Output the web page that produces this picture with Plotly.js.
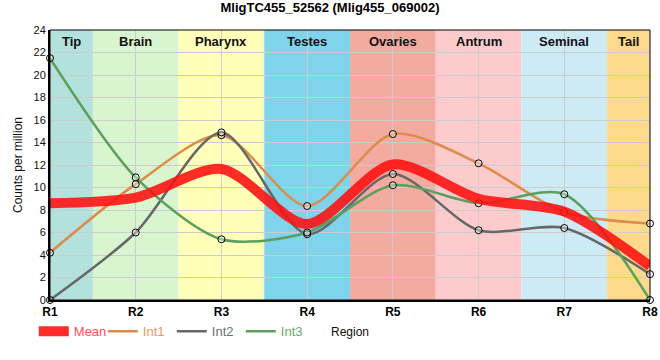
<!DOCTYPE html>
<html>
<head>
<meta charset="utf-8">
<script src="https://cdn.plot.ly/plotly-3.0.1.min.js"></script>
<style>html,body{margin:0;padding:0;background:#fff;}#chart{width:660px;height:360px;}</style>
</head>
<body>
<div id="chart"></div>
<script>
// ---- data ----
const categories = ["R1", "R2", "R3", "R4", "R5", "R6", "R7", "R8"];
const meanValues = [8.6, 9.1, 11.65, 6.75, 12.05, 9.0, 7.85, 3.0];
const int1Values = [4.2, 10.3, 14.65, 8.35, 14.75, 12.15, 7.8, 6.8];
const int2Values = [0.0, 6.0, 14.9, 5.85, 11.2, 6.2, 6.4, 2.3];
const int3Values = [21.5, 10.9, 5.4, 6.0, 10.2, 8.6, 9.4, 0.0];
const regionLabels = ["Tip", "Brain", "Pharynx", "Testes", "Ovaries", "Antrum", "Seminal", "Tail"];
const regionColors = ["#b3e2dd", "#d9f5d0", "#ffffb9", "#7fd3eb", "#f4ab9f", "#fdcbcb", "#cdebf5", "#fcd98b"];

const FONT = "Liberation Sans, Arial, sans-serif";

function lineTrace(name, vals, color, labelColor, width, rank) {
  return {
    type: "scatter", x: categories, y: vals,
    name: "<span style='color:" + labelColor + "'>" + name + "</span>",
    mode: "lines",
    line: {color: color, width: width, shape: "spline", smoothing: 0.8},
    cliponaxis: false, legendrank: rank, hoverinfo: "y"
  };
}
function markerTrace(vals) {
  return {
    type: "scatter", x: categories, y: vals, mode: "markers", showlegend: false,
    marker: {symbol: "circle", size: 7, color: "rgba(255,255,255,0.35)", line: {color: "#000", width: 1}},
    cliponaxis: false, hoverinfo: "y"
  };
}

const traces = [
  lineTrace("Int1", int1Values, "#dc8c4a", "#e39a5e", 2.5, 2),
  lineTrace("Int2", int2Values, "#676767", "#707070", 2.5, 3),
  lineTrace("Int3", int3Values, "#5a9f5e", "#68ad6a", 2.5, 4),
  markerTrace(int1Values),
  markerTrace(int2Values),
  markerTrace(int3Values),
  lineTrace("Mean", meanValues, "rgba(255,15,15,0.88)", "#ff4d5a", 10, 1)
];

const shapes = [];
const annotations = [];
for (let i = 0; i < categories.length; i++) {
  const x0 = Math.max(0, i - 0.5), x1 = Math.min(categories.length - 1, i + 0.5);
  shapes.push({type: "rect", xref: "x", yref: "paper", x0: x0, x1: x1, y0: 0, y1: 1,
    fillcolor: regionColors[i], line: {width: 0}, layer: "below"});
  annotations.push({xref: "x", yref: "paper", x: (x0 + x1) / 2, y: 1, yanchor: "top", yshift: -2,
    text: "<b>" + regionLabels[i] + "</b>", showarrow: false,
    font: {family: FONT, size: 13, color: "#111"}});
}
shapes.push({type: "rect", xref: "paper", yref: "paper", x0: 0, x1: 1, y0: 0, y1: 1,
  line: {color: "#000", width: 1}, layer: "above"});

const layout = {
  width: 660, height: 360,
  margin: {l: 50, r: 10, t: 30, b: 60},
  paper_bgcolor: "#fff", plot_bgcolor: "#fff",
  font: {family: FONT, size: 11, color: "#111"},
  title: {text: "<b>MligTC455_52562 (Mlig455_069002)</b>", x: 0.5, xanchor: "center",
    y: 0.978, yref: "container", yanchor: "middle",
    font: {family: FONT, size: 13, color: "#000"}},
  xaxis: {type: "category", range: [0, 7], showgrid: true, gridcolor: "#cccccc", gridwidth: 1,
    showline: true, linecolor: "#000", linewidth: 2, zeroline: false, ticks: "",
    tickfont: {family: FONT, size: 12, color: "#000", weight: "bold"},
    title: {text: "Region", standoff: 9, font: {size: 12, color: "#111"}}, automargin: false, fixedrange: true},
  yaxis: {range: [0, 24], dtick: 2, showgrid: true, gridcolor: "#cccccc", gridwidth: 1,
    showline: true, linecolor: "#000", linewidth: 2, zeroline: false, ticks: "",
    tickfont: {size: 11, color: "#111"},
    title: {text: "Counts per million", standoff: 8, font: {size: 12, color: "#111"}}, automargin: false, fixedrange: true},
  shapes: shapes,
  annotations: annotations,
  showlegend: true,
  legend: {orientation: "h", x: -0.027, xanchor: "left", y: -0.06, yanchor: "top",
    bgcolor: "rgba(0,0,0,0)", itemwidth: 30, entrywidth: 24, entrywidthmode: "pixels",
    font: {family: FONT, size: 13}}
};

Plotly.newPlot("chart", traces, layout, {displayModeBar: false, staticPlot: true});
</script>
</body>
</html>
